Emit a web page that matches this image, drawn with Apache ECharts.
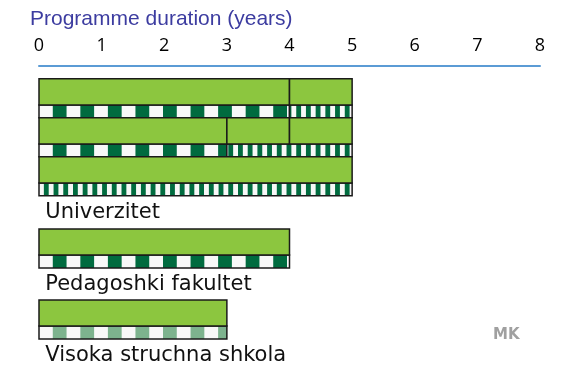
<!DOCTYPE html>
<html>
<head>
<meta charset="utf-8">
<script src="https://cdn.jsdelivr.net/npm/echarts@6/dist/echarts.min.js"></script>
<style>
  html, body { margin: 0; background: #fff; }
  #chart { width: 562px; height: 373px; }
</style>
</head>
<body>
<div id="chart"></div>
<script>
const categories = ['Univerzitet', 'Pedagoshki fakultet', 'Visoka struchna shkola'];
const yearTicks = [0, 1, 2, 3, 4, 5, 6, 7, 8];
// which group every bar row belongs to
const rowGroup = [0, 0, 0, 1, 2];
// green study blocks: [row, from year, to year]
const studyBlocks = [
  [0, 0, 4], [0, 4, 5],
  [1, 0, 3], [1, 3, 4], [1, 4, 5],
  [2, 0, 5],
  [3, 0, 4],
  [4, 0, 3]
];
// patterned strips under the blocks: [row, from year, to year, kind]
const stripBlocks = [
  [0, 0, 4, 'check'], [0, 4, 5, 'stripe'],
  [1, 0, 3, 'check'], [1, 3, 5, 'stripe'],
  [2, 0, 5, 'stripe'],
  [3, 0, 4, 'check'],
  [4, 0, 3, 'light']
];

// layout only: vertical slot of each row, in row heights
const rowSlot = [0.33, 1.33, 2.33, 4.18, 6.0];
const GREEN_H = 0.667;

function renderBlock(params, api) {
  const row = api.value(0);
  const p0 = api.coord([api.value(1), rowSlot[row]]);
  const p1 = api.coord([api.value(2), rowSlot[row] + GREEN_H]);
  return {
    type: 'rect',
    shape: { x: p0[0], y: p0[1], width: p1[0] - p0[0], height: p1[1] - p0[1] },
    style: { fill: '#8cc63f', stroke: '#1a1a1a', lineWidth: 1.5 }
  };
}

function renderStrip(params, api) {
  const row = api.value(0);
  const kind = stripBlocks[params.dataIndex][3];
  const top = rowSlot[row] + GREEN_H;
  const p0 = api.coord([api.value(1), top]);
  const p1 = api.coord([api.value(2), rowSlot[row] + 1]);
  const origin = api.coord([0, top])[0];
  const yearPx = api.size([1, 0])[0];
  const period = kind === 'stripe' ? yearPx * 0.155 : yearPx * 0.44;
  const dark = kind === 'light' ? '#7db38e' : '#006b3f';
  const h = p1[1] - p0[1];
  const children = [{
    type: 'rect',
    shape: { x: p0[0], y: p0[1], width: p1[0] - p0[0], height: h },
    style: { fill: '#f8f8f8' }
  }];
  for (let x = origin + period / 2; x < p1[0]; x += period) {
    const a = Math.max(x, p0[0]);
    const b = Math.min(x + period / 2, p1[0]);
    if (b > a) {
      children.push({
        type: 'rect',
        shape: { x: a, y: p0[1], width: b - a, height: h },
        style: { fill: dark }
      });
    }
  }
  children.push({
    type: 'rect',
    shape: { x: p0[0], y: p0[1], width: p1[0] - p0[0], height: h },
    style: { fill: 'none', stroke: '#1a1a1a', lineWidth: 1.5 }
  });
  return { type: 'group', children: children };
}

function renderLabel(params, api) {
  const g = params.dataIndex;
  const last = rowGroup.lastIndexOf(g);
  const p = api.coord([0.1, rowSlot[last] + 1.42]);
  return {
    type: 'text',
    x: p[0],
    y: p[1],
    style: {
      text: categories[g],
      fill: '#111',
      font: '21px "DejaVu Sans"',
      verticalAlign: 'middle'
    }
  };
}

const chart = echarts.init(document.getElementById('chart'));

const option = {
  animation: false,
  title: {
    text: 'Programme duration (years)',
    left: 25,
    top: 4,
    textStyle: {
      color: '#3c3ca0',
      fontSize: 21,
      fontWeight: 'normal',
      fontFamily: 'Liberation Sans'
    }
  },
  grid: { left: 39, right: 22, top: 66, bottom: 14.5 },
  xAxis: {
    type: 'value',
    position: 'top',
    min: yearTicks[0],
    max: yearTicks[yearTicks.length - 1],
    interval: 1,
    splitLine: { show: false },
    axisTick: { show: false },
    axisLine: { lineStyle: { color: '#5b9bd5', width: 2 } },
    axisLabel: {
      color: '#000',
      fontSize: 18,
      fontFamily: 'Open Sans',
      margin: 11
    }
  },
  yAxis: {
    type: 'value',
    inverse: true,
    min: 0,
    max: 7.5,
    show: false
  },
  graphic: [{
    type: 'text',
    left: 493,
    top: 328,
    style: { text: 'MK', fill: '#a0a0a0', font: 'bold 15px "DejaVu Sans"' }
  }],
  series: [
    {
      type: 'custom',
      clip: false,
      renderItem: renderStrip,
      encode: { x: [1, 2], y: 0 },
      data: stripBlocks.map(d => [d[0], d[1], d[2]])
    },
    {
      type: 'custom',
      clip: false,
      renderItem: renderBlock,
      encode: { x: [1, 2], y: 0 },
      data: studyBlocks
    },
    {
      type: 'custom',
      clip: false,
      renderItem: renderLabel,
      encode: { x: 0, y: 1 },
      data: categories.map((c, i) => [0, i])
    }
  ]
};

option && chart.setOption(option);
</script>
</body>
</html>
